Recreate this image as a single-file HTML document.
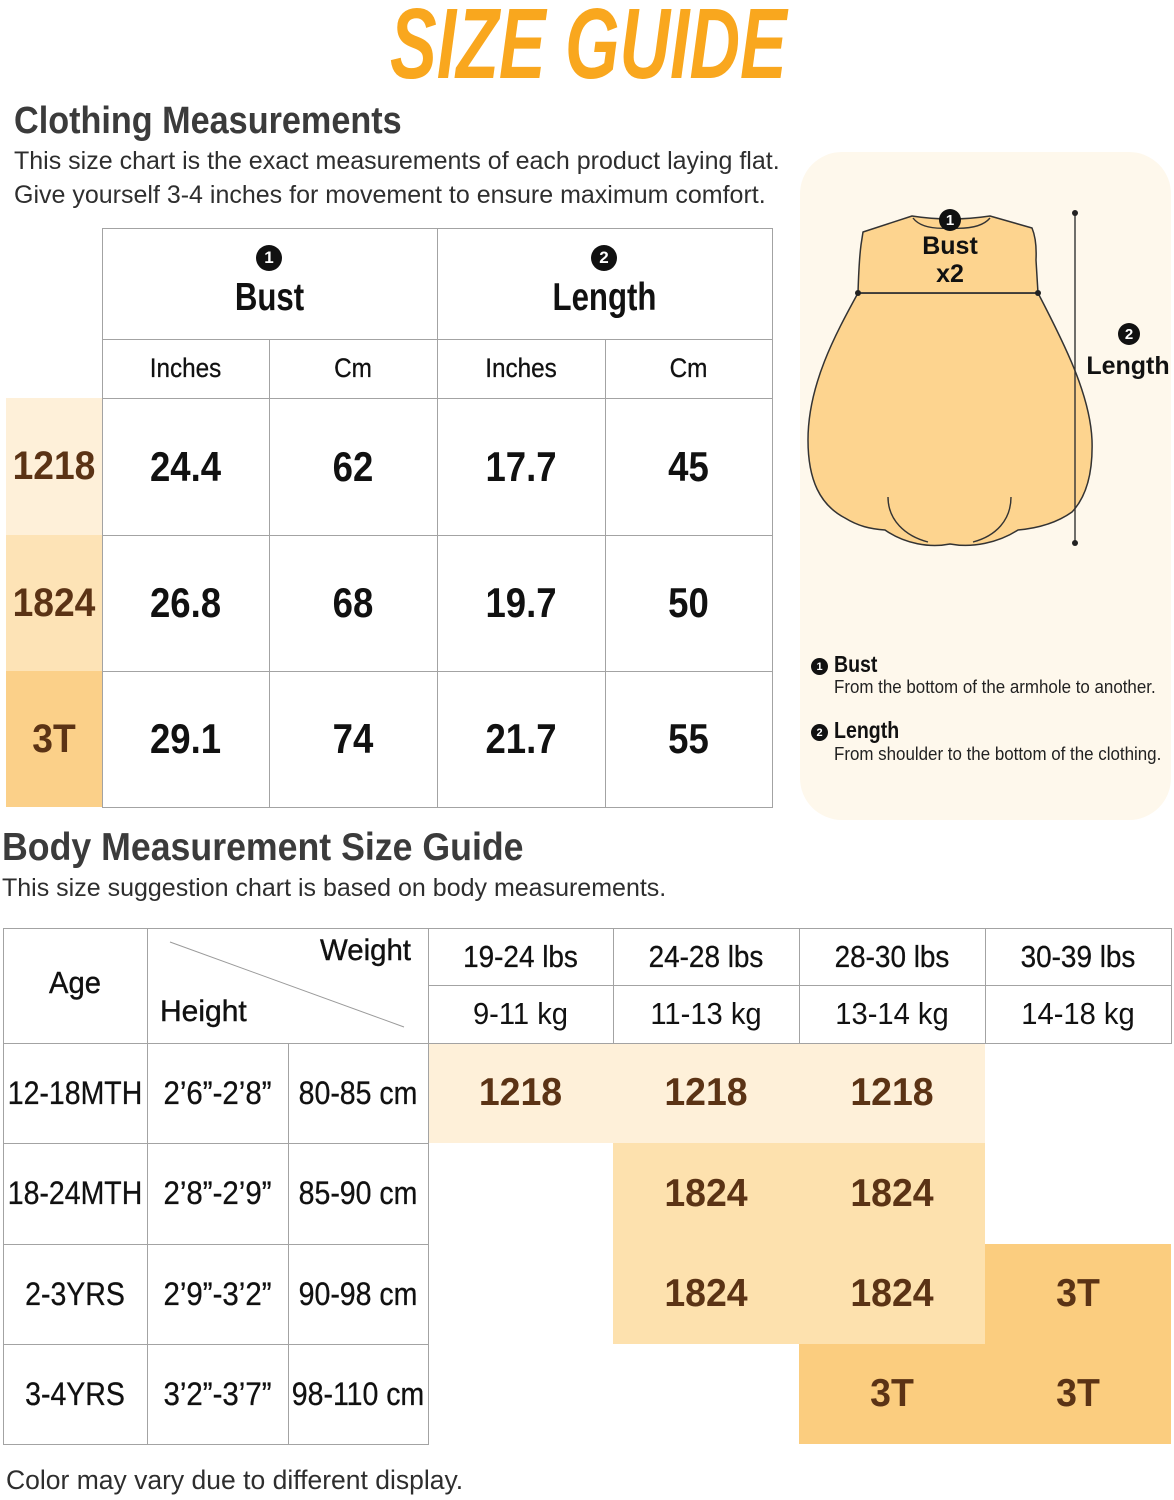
<!DOCTYPE html>
<html><head><meta charset="utf-8">
<style>
*{margin:0;padding:0;box-sizing:border-box}
html,body{width:1174px;height:1500px;background:#fff;overflow:hidden}
body{position:relative;font-family:"Liberation Sans Narrow","Liberation Sans",sans-serif;color:#111}
.a{position:absolute;white-space:nowrap;transform-origin:0 50%}
.c{position:absolute;display:flex;align-items:center;justify-content:center;white-space:nowrap}
.h{position:absolute;height:1px;background:#a3a3a3}
.v{position:absolute;width:1px;background:#a3a3a3}
.b{font-weight:bold}
.br{color:#5b3315;font-weight:bold}
.num{position:absolute;border-radius:50%;background:#111;color:#fff;font-family:"Liberation Sans",sans-serif;font-weight:bold;display:flex;align-items:center;justify-content:center}
.hd{font-size:39px;font-weight:bold;transform:scaleX(0.8)}
.sub{font-size:27px;transform:scaleX(0.9);-webkit-text-stroke:0.3px #111}
.val{font-size:42px;font-weight:bold;transform:scaleX(0.87)}
.rl{font-size:40px;transform:scaleX(0.93)}
.wl{font-size:31px;transform:scaleX(0.9);-webkit-text-stroke:0.3px #111}
.kg{font-size:31px;transform:scaleX(0.94)}
.bt{font-size:32px;transform:scaleX(0.89);-webkit-text-stroke:0.3px #111}
.bh{font-size:32px;transform:scaleX(0.92);-webkit-text-stroke:0.3px #111}
.sz{font-size:39px;transform:scaleX(0.96)}
</style></head><body>

<!-- Title -->
<div class="a" style="left:390px;top:-13px;font-size:100px;font-weight:bold;font-style:italic;color:#F9A71E;transform-origin:0 0;transform:scaleX(0.70)">SIZE GUIDE</div>

<!-- Clothing Measurements heading -->
<div class="a b" style="left:14px;top:100px;font-size:38px;color:#3b3b3b;transform:scaleX(0.9)">Clothing Measurements</div>
<div class="a" style="left:14px;top:147px;font-size:25px;color:#2e2e2e">This size chart is the exact measurements of each product laying flat.</div>
<div class="a" style="left:14px;top:181px;font-size:25px;color:#2e2e2e">Give yourself 3-4 inches for movement to ensure maximum comfort.</div>

<!-- Top table colored left column -->
<div class="a" style="left:6px;top:398px;width:96px;height:137px;background:#FEF0D9"></div>
<div class="a" style="left:6px;top:535px;width:96px;height:136px;background:#FDE3B6"></div>
<div class="a" style="left:6px;top:671px;width:96px;height:136px;background:#FBD089"></div>

<!-- Top table lines -->
<div class="h" style="left:102px;top:228px;width:671px"></div>
<div class="h" style="left:102px;top:339px;width:671px"></div>
<div class="h" style="left:102px;top:398px;width:671px"></div>
<div class="h" style="left:102px;top:535px;width:671px"></div>
<div class="h" style="left:102px;top:671px;width:671px"></div>
<div class="h" style="left:102px;top:807px;width:671px"></div>
<div class="v" style="left:102px;top:228px;height:580px"></div>
<div class="v" style="left:437px;top:228px;height:580px"></div>
<div class="v" style="left:772px;top:228px;height:580px"></div>
<div class="v" style="left:269px;top:339px;height:469px"></div>
<div class="v" style="left:605px;top:339px;height:469px"></div>

<!-- Top table header -->
<div class="num" style="left:256px;top:245px;width:26px;height:26px;font-size:17px">1</div>
<div class="c hd" style="left:102px;top:276px;width:335px;height:44px">Bust</div>
<div class="num" style="left:591px;top:245px;width:26px;height:26px;font-size:17px">2</div>
<div class="c hd" style="left:437px;top:276px;width:335px;height:44px">Length</div>
<div class="c sub" style="left:102px;top:339px;width:167px;height:59px">Inches</div>
<div class="c sub" style="left:269px;top:339px;width:168px;height:59px">Cm</div>
<div class="c sub" style="left:437px;top:339px;width:168px;height:59px">Inches</div>
<div class="c sub" style="left:605px;top:339px;width:167px;height:59px">Cm</div>

<!-- Top table rows -->
<div class="c br rl" style="left:6px;top:398px;width:96px;height:137px">1218</div>
<div class="c val" style="left:102px;top:398px;width:167px;height:137px">24.4</div>
<div class="c val" style="left:269px;top:398px;width:168px;height:137px">62</div>
<div class="c val" style="left:437px;top:398px;width:168px;height:137px">17.7</div>
<div class="c val" style="left:605px;top:398px;width:167px;height:137px">45</div>

<div class="c br rl" style="left:6px;top:535px;width:96px;height:136px">1824</div>
<div class="c val" style="left:102px;top:535px;width:167px;height:136px">26.8</div>
<div class="c val" style="left:269px;top:535px;width:168px;height:136px">68</div>
<div class="c val" style="left:437px;top:535px;width:168px;height:136px">19.7</div>
<div class="c val" style="left:605px;top:535px;width:167px;height:136px">50</div>

<div class="c br rl" style="left:6px;top:671px;width:96px;height:136px">3T</div>
<div class="c val" style="left:102px;top:671px;width:167px;height:136px">29.1</div>
<div class="c val" style="left:269px;top:671px;width:168px;height:136px">74</div>
<div class="c val" style="left:437px;top:671px;width:168px;height:136px">21.7</div>
<div class="c val" style="left:605px;top:671px;width:167px;height:136px">55</div>

<!-- Right panel -->
<div class="a" style="left:800px;top:152px;width:371px;height:668px;background:#FEF8EC;border-radius:42px"></div>
<svg class="a" style="left:0;top:0" width="1174" height="1500" viewBox="0 0 1174 1500">
  <g stroke="#333" stroke-width="1.5" fill="#FDD48F" stroke-linejoin="round">
    <path d="M858,293 C835,335 808,385 808,440 C808,480 820,505 845,518 C858,526 870,529 885,530 C905,544 930,548 950,544 C972,548 998,543 1018,530 C1040,528 1058,522 1072,512 C1088,495 1093,470 1092,440 C1090,395 1065,345 1038,293 Z"/>
    <path d="M863,232 L912,216 Q950,222 990,216 L1032,228 Q1037,240 1036,260 L1038,293 L858,293 Q859,260 861,245 Z"/>
  </g>
  <g stroke="#333" stroke-width="1.4" fill="none">
    <path d="M913,218 Q922,230 950,228 Q980,230 990,218"/>
    <path d="M888,497 C888,520 905,536 928,542"/>
    <path d="M1011,497 C1011,520 996,536 973,542"/>
    <path d="M858,293 L1038,293"/>
    <path d="M1075,213 L1075,543"/>
  </g>
  <g fill="#222">
    <circle cx="858" cy="293" r="3"/><circle cx="1038" cy="293" r="3"/>
    <circle cx="1075" cy="213" r="3"/><circle cx="1075" cy="543" r="3"/>
  </g>
  <line x1="170" y1="942" x2="404" y2="1027" stroke="#9a9a9a" stroke-width="1"/>
</svg>
<div class="num" style="left:939px;top:209px;width:22px;height:22px;font-size:15px">1</div>
<div class="c" style="left:900px;top:232px;width:100px;height:28px;font-family:'Liberation Sans',sans-serif;font-weight:bold;font-size:25px;color:#111">Bust</div>
<div class="c" style="left:900px;top:260px;width:100px;height:28px;font-family:'Liberation Sans',sans-serif;font-weight:bold;font-size:25px;color:#111">x2</div>
<div class="num" style="left:1118px;top:323px;width:22px;height:22px;font-size:15px">2</div>
<div class="c" style="left:1080px;top:351px;width:96px;height:30px;font-family:'Liberation Sans',sans-serif;font-weight:bold;font-size:25px;color:#111">Length</div>

<!-- Legend -->
<div class="num" style="left:811px;top:658px;width:17px;height:17px;font-size:11px">1</div>
<div class="a b" style="left:834px;top:651px;font-size:23px;transform:scaleX(0.85)">Bust</div>
<div class="a" style="left:834px;top:677px;font-size:18px;color:#222;transform:scaleX(0.94)">From the bottom of the armhole to another.</div>
<div class="num" style="left:811px;top:724px;width:17px;height:17px;font-size:11px">2</div>
<div class="a b" style="left:834px;top:717px;font-size:23px;transform:scaleX(0.85)">Length</div>
<div class="a" style="left:834px;top:744px;font-size:18px;color:#222;transform:scaleX(0.94)">From shoulder to the bottom of the clothing.</div>

<!-- Body Measurement heading -->
<div class="a b" style="left:2px;top:826px;font-size:39px;color:#3b3b3b;transform:scaleX(0.915)">Body Measurement Size Guide</div>
<div class="a" style="left:2px;top:874px;font-size:25px;color:#2e2e2e">This size suggestion chart is based on body measurements.</div>

<!-- Bottom table colored cells -->
<div class="a" style="left:428px;top:1043px;width:557px;height:100px;background:#FEF0D9"></div>
<div class="a" style="left:613px;top:1143px;width:372px;height:201px;background:#FDE1AE"></div>
<div class="a" style="left:985px;top:1244px;width:186px;height:100px;background:#FBCD7F"></div>
<div class="a" style="left:799px;top:1344px;width:372px;height:100px;background:#FBCD7F"></div>

<!-- Bottom table lines -->
<div class="h" style="left:3px;top:928px;width:1169px"></div>
<div class="h" style="left:428px;top:985px;width:744px"></div>
<div class="h" style="left:3px;top:1043px;width:1169px"></div>
<div class="h" style="left:3px;top:1143px;width:425px"></div>
<div class="h" style="left:3px;top:1244px;width:425px"></div>
<div class="h" style="left:3px;top:1344px;width:425px"></div>
<div class="h" style="left:3px;top:1444px;width:425px"></div>
<div class="v" style="left:3px;top:928px;height:517px"></div>
<div class="v" style="left:147px;top:928px;height:517px"></div>
<div class="v" style="left:288px;top:1043px;height:402px"></div>
<div class="v" style="left:428px;top:928px;height:517px"></div>
<div class="v" style="left:613px;top:928px;height:115px"></div>
<div class="v" style="left:799px;top:928px;height:115px"></div>
<div class="v" style="left:985px;top:928px;height:115px"></div>
<div class="v" style="left:1171px;top:928px;height:115px"></div>

<!-- Bottom header text -->
<div class="c" style="left:3px;top:960px;width:144px;height:46px;font-size:31px;-webkit-text-stroke:0.4px #111;transform:scaleX(0.94)">Age</div>
<div class="a" style="left:320px;top:934px;font-size:30px;-webkit-text-stroke:0.4px #111;transform:scaleX(0.98)">Weight</div>
<div class="a" style="left:160px;top:995px;font-size:30px;-webkit-text-stroke:0.4px #111">Height</div>

<div class="c wl" style="left:428px;top:928px;width:185px;height:57px">19-24 lbs</div>
<div class="c wl" style="left:613px;top:928px;width:186px;height:57px">24-28 lbs</div>
<div class="c wl" style="left:799px;top:928px;width:186px;height:57px">28-30 lbs</div>
<div class="c wl" style="left:985px;top:928px;width:186px;height:57px">30-39 lbs</div>
<div class="c kg" style="left:428px;top:985px;width:185px;height:58px">9-11 kg</div>
<div class="c kg" style="left:613px;top:985px;width:186px;height:58px">11-13 kg</div>
<div class="c kg" style="left:799px;top:985px;width:186px;height:58px">13-14 kg</div>
<div class="c kg" style="left:985px;top:985px;width:186px;height:58px">14-18 kg</div>

<!-- Bottom rows -->
<div class="c bt" style="left:3px;top:1043px;width:144px;height:100px">12-18MTH</div>
<div class="c bh" style="left:147px;top:1043px;width:141px;height:100px">2’6”-2’8”</div>
<div class="c bt" style="left:288px;top:1043px;width:140px;height:100px">80-85 cm</div>
<div class="c br sz" style="left:428px;top:1043px;width:185px;height:100px">1218</div>
<div class="c br sz" style="left:613px;top:1043px;width:186px;height:100px">1218</div>
<div class="c br sz" style="left:799px;top:1043px;width:186px;height:100px">1218</div>

<div class="c bt" style="left:3px;top:1143px;width:144px;height:101px">18-24MTH</div>
<div class="c bh" style="left:147px;top:1143px;width:141px;height:101px">2’8”-2’9”</div>
<div class="c bt" style="left:288px;top:1143px;width:140px;height:101px">85-90 cm</div>
<div class="c br sz" style="left:613px;top:1143px;width:186px;height:101px">1824</div>
<div class="c br sz" style="left:799px;top:1143px;width:186px;height:101px">1824</div>

<div class="c bt" style="left:3px;top:1244px;width:144px;height:100px">2-3YRS</div>
<div class="c bh" style="left:147px;top:1244px;width:141px;height:100px">2’9”-3’2”</div>
<div class="c bt" style="left:288px;top:1244px;width:140px;height:100px">90-98 cm</div>
<div class="c br sz" style="left:613px;top:1244px;width:186px;height:100px">1824</div>
<div class="c br sz" style="left:799px;top:1244px;width:186px;height:100px">1824</div>
<div class="c br sz" style="left:985px;top:1244px;width:186px;height:100px">3T</div>

<div class="c bt" style="left:3px;top:1344px;width:144px;height:100px">3-4YRS</div>
<div class="c bh" style="left:147px;top:1344px;width:141px;height:100px">3’2”-3’7”</div>
<div class="c bt" style="left:288px;top:1344px;width:140px;height:100px">98-110 cm</div>
<div class="c br sz" style="left:799px;top:1344px;width:186px;height:100px">3T</div>
<div class="c br sz" style="left:985px;top:1344px;width:186px;height:100px">3T</div>

<div class="a" style="left:6px;top:1465px;font-size:26.5px;color:#2e2e2e">Color may vary due to different display.</div>

</body></html>
